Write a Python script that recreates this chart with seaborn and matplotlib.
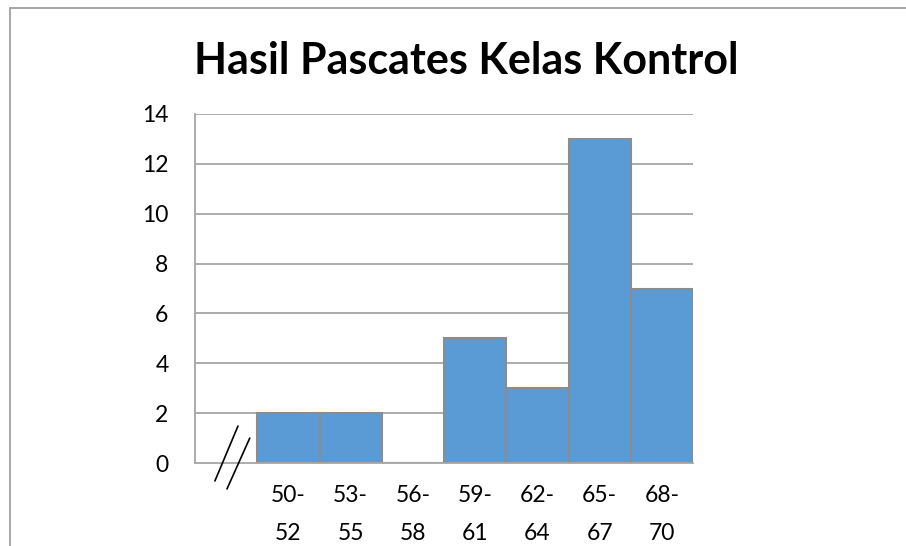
import matplotlib
matplotlib.use("Agg")
import matplotlib.pyplot as plt
from matplotlib.lines import Line2D
import seaborn as sns
import pandas as pd

# Data
categories = ["50-\n52", "53-\n55", "56-\n58", "59-\n61", "62-\n64", "65-\n67", "68-\n70"]
frequencies = [2, 2, 0, 5, 3, 13, 7]
title = "Hasil Pascates Kelas Kontrol"
yticks = [0, 2, 4, 6, 8, 10, 12, 14]

sns.set_theme(style="white")
plt.rcParams["font.family"] = ["Lato", "DejaVu Sans"]

df = pd.DataFrame({"kelas": categories, "frekuensi": frequencies})
order = [""] + categories

fig = plt.figure(figsize=(9.06, 5.46), dpi=100)
ax = fig.add_axes([195 / 906, 1 - 463 / 546, (693 - 195) / 906, (463 - 114) / 546])

grid_c = "#A6A6A6"
for y in yticks[1:]:
    ax.axhline(y, color=grid_c, lw=1.3, zorder=0)

sns.barplot(data=df, x="kelas", y="frekuensi", order=order, color="#5B9BD5",
            saturation=1, width=1.0, edgecolor="#8C8C8C", linewidth=1.5, ax=ax, zorder=2)

ax.set_xlim(-0.5, len(order) - 0.5)
ax.set_ylim(0, 14)
ax.set_yticks(yticks)
ax.set_yticklabels([str(v) for v in yticks])
ax.set_xlabel("")
ax.set_ylabel("")

# x ticks: labels at centers, tick marks at boundaries
ax.set_xticks(range(len(order)))
ax.set_xticklabels(order, linespacing=2.0)
ax.set_xticks([i - 0.5 for i in range(len(order) + 1)], minor=True)
ax.tick_params(axis="x", which="major", length=0, pad=16, labelsize=16.5, colors="black")
ax.tick_params(axis="x", which="minor", length=7, width=1.3, color=grid_c, direction="out")
ax.tick_params(axis="y", which="major", length=7, width=1.3, color=grid_c, direction="out",
               pad=12, labelsize=16.5, labelcolor="black")

for s in ["top", "right"]:
    ax.spines[s].set_visible(False)
for s in ["left", "bottom"]:
    ax.spines[s].set_color(grid_c)
    ax.spines[s].set_linewidth(1.3)
    ax.spines[s].set_zorder(3)

# axis break marks
ax.add_line(Line2D([0.19, -0.18], [1.48, -0.72], color="black", lw=1.2, clip_on=False, zorder=4))
ax.add_line(Line2D([0.38, 0.014], [1.0, -1.04], color="black", lw=1.2, clip_on=False, zorder=4))

fig.text(466 / 906, 1 - 61 / 546, title, ha="center", va="center",
         fontsize=31, fontweight="bold", color="black")

# outer frame
frame_c = "#A0A0A0"
fig.add_artist(Line2D([9.5 / 906, 9.5 / 906], [0, 1 - 7.5 / 546], color=frame_c, lw=1.3))
fig.add_artist(Line2D([9.5 / 906, 1], [1 - 7.5 / 546, 1 - 7.5 / 546], color=frame_c, lw=1.3))

fig.savefig("out.png", dpi=100)
